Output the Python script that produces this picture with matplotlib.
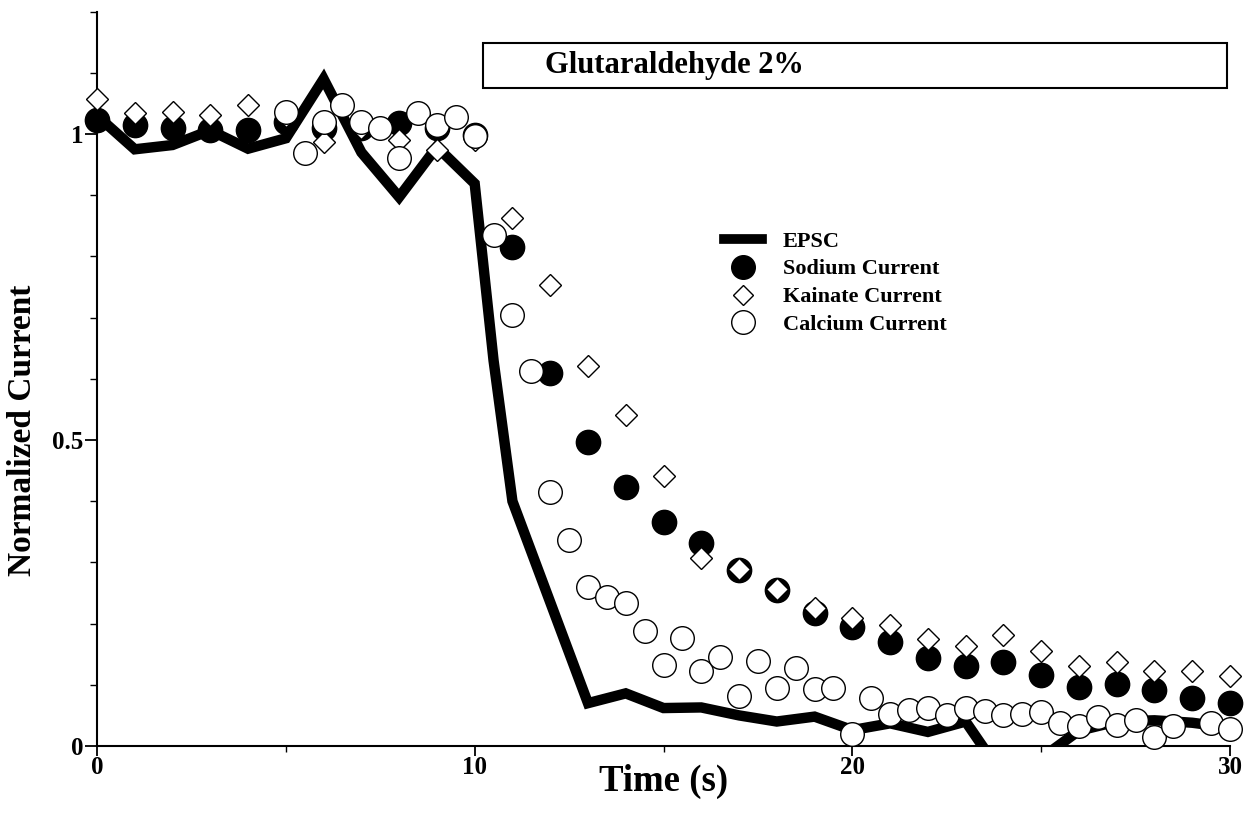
import matplotlib.pyplot as plt
from matplotlib.patches import Rectangle
import numpy as np

Fig_size = (12.46, 8.19)
Fig_dpi = 100
Font = 'Liberation Serif'

# EPSC trace (thick line)
epsc_time = [0, 1, 2, 3, 4, 5, 6, 7, 8, 9, 10, 10.5, 11, 12, 13, 14, 15, 16,
             17, 18, 19, 20, 21, 22, 23, 24, 25, 26, 27, 28, 29, 30]
epsc = [1.03, 0.975, 0.982, 1.006, 0.976, 0.993, 1.09, 0.97, 0.897, 0.979,
        0.919, 0.63, 0.40, 0.235, 0.07, 0.086, 0.062, 0.063, 0.05, 0.04,
        0.048, 0.026, 0.037, 0.023, 0.04, -0.05, -0.02, 0.025, 0.04, 0.042,
        0.038, 0.03]

# sodium and kainate sampled every second
time_1s = list(range(0, 31))
sodium = [1.023, 1.015, 1.01, 1.006, 1.006, 1.02, 1.01, 1.01, 1.018, 1.01,
          0.998, 0.816, 0.61, 0.497, 0.424, 0.366, 0.332, 0.288, 0.255, 0.218,
          0.194, 0.170, 0.143, 0.131, 0.138, 0.116, 0.097, 0.102, 0.0915,
          0.078, 0.071]
kainate = [1.057, 1.034, 1.036, 1.031, 1.047, 1.03, 0.987, 1.01, 0.99, 0.974,
           0.99, 0.862, 0.753, 0.621, 0.541, 0.441, 0.308, 0.290, 0.256,
           0.225, 0.209, 0.198, 0.175, 0.163, 0.181, 0.155, 0.130, 0.138,
           0.123, 0.123, 0.114]

# calcium sampled every half second from 5 s
calcium_time = [5, 5.5, 6, 6.5, 7, 7.5, 8, 8.5, 9, 9.5, 10, 10.5, 11, 11.5,
                12, 12.5, 13, 13.5, 14, 14.5, 15, 15.5, 16, 16.5, 17, 17.5,
                18, 18.5, 19, 19.5, 20, 20.5, 21, 21.5, 22, 22.5, 23, 23.5,
                24, 24.5, 25, 25.5, 26, 26.5, 27, 27.5, 28, 28.5, 29.5, 30]
calcium = [1.036, 0.969, 1.02, 1.047, 1.02, 1.009, 0.96, 1.034, 1.015, 1.028,
           0.996, 0.835, 0.704, 0.612, 0.415, 0.337, 0.260, 0.243, 0.234,
           0.188, 0.132, 0.176, 0.123, 0.146, 0.081, 0.139, 0.095, 0.127,
           0.093, 0.094, 0.020, 0.078, 0.052, 0.059, 0.062, 0.050, 0.062,
           0.057, 0.051, 0.053, 0.056, 0.038, 0.032, 0.048, 0.034, 0.043,
           0.015, 0.033, 0.038, 0.027]

series_labels = ['EPSC', 'Sodium Current', 'Kainate Current', 'Calcium Current']
box_title = 'Glutaraldehyde 2%'

plt.rcParams['font.family'] = Font
plt.rcParams['font.weight'] = 'bold'

fig = plt.figure(figsize=Fig_size, dpi=Fig_dpi)
ax = fig.add_axes([97 / 1246, 73 / 819, 1133 / 1246, 734.4 / 819])

l_epsc, = ax.plot(epsc_time, epsc, color='black', lw=7.5,
                  solid_joinstyle='miter', zorder=2)
l_na, = ax.plot(time_1s, sodium, 'o', ms=17.5, mfc='black', mec='black',
                zorder=3, clip_on=False)
l_ka, = ax.plot(time_1s, kainate, 'D', ms=11, mfc='white', mec='black',
                mew=1.0, zorder=4, clip_on=False)
l_ca, = ax.plot(calcium_time, calcium, 'o', ms=17, mfc='white', mec='black',
                mew=1.0, zorder=5, clip_on=False)

ax.set_xlim(0, 30)
ax.set_ylim(0, 1.2)
for side in ['top', 'right']:
    ax.spines[side].set_visible(False)
ax.spines['left'].set_linewidth(1.5)
ax.spines['bottom'].set_linewidth(1.5)

ax.set_xticks([0, 10, 20, 30])
ax.set_xticks([5, 15, 25], minor=True)
ax.set_yticks([0, 0.5, 1])
ax.set_yticklabels(['0', '0.5', '1'])
ax.set_yticks(np.arange(0, 1.21, 0.1), minor=True)
ax.tick_params(axis='y', which='major', length=9, width=1.3, labelsize=18, pad=1)
ax.tick_params(axis='x', which='major', length=7, width=1.3, labelsize=18, pad=0)
ax.tick_params(which='minor', length=5, width=1.0)
ax.tick_params(axis='x', which='minor', length=4)

ax.set_xlabel('Time (s)', fontsize=26.5, fontweight='bold', labelpad=-11)
ax.set_ylabel('Normalized Current', fontsize=24, fontweight='bold')
ax.yaxis.set_label_coords(-0.052, 0.43)

# title box
ax.add_patch(Rectangle((0.3407, 0.896), 0.657, 0.061, transform=ax.transAxes,
                       fill=False, ec='black', lw=1.5, clip_on=False))
ax.text(0.395, 0.927, box_title, transform=ax.transAxes, fontsize=22,
        fontweight='bold', va='center', ha='left')

leg = ax.legend([l_epsc, l_na, l_ka, l_ca], series_labels, loc='upper left',
                bbox_to_anchor=(724 / 1246, 1 - 231 / 819),
                bbox_transform=fig.transFigure, frameon=False,
                prop={'family': Font, 'weight': 'bold', 'size': 16},
                handlelength=1.7, handletextpad=0.95, labelspacing=0.33,
                borderpad=0, borderaxespad=0)
leg.legend_handles[0].set_linewidth(7)
leg.legend_handles[1].set_markersize(17)
leg.legend_handles[2].set_markersize(10.5)
leg.legend_handles[3].set_markersize(17)

fig.savefig('out.png', dpi=Fig_dpi)
print('out.png', 'generated')
